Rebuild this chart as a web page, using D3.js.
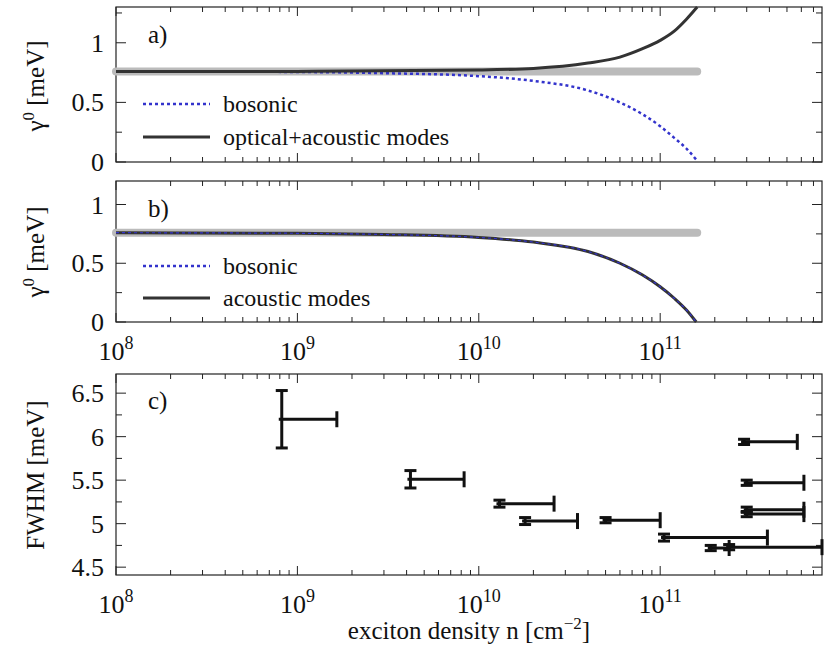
<!DOCTYPE html>
<html><head><meta charset="utf-8">
<script src="https://cdn.jsdelivr.net/npm/d3@7"></script>
<style>body{margin:0;background:#fff}</style>
</head><body><svg id="c" width="830" height="645" font-family="Liberation Serif, Times New Roman, serif" fill="#111"></svg>
<script>
// panel a/b curves (density, gamma0)
var nGray = [1e8, 1.6e11], gGray = [0.76, 0.76];
var nA = [1e8, 1e9, 1e10, 2e10, 4e10, 6e10, 8e10, 1e11, 1.2e11, 1.4e11, 1.6e11];
var gOpt = [0.76, 0.76, 0.772, 0.785, 0.83, 0.88, 0.95, 1.02, 1.1, 1.2, 1.3];
var nBos = [1e8, 1e9, 3e9, 1e10, 2e10, 4e10, 6e10, 8e10, 1e11, 1.2e11, 1.4e11, 1.58e11];
var gBos = [0.76, 0.755, 0.745, 0.72, 0.68, 0.6, 0.5, 0.4, 0.3, 0.2, 0.11, 0.02];
var gAco = [0.76, 0.755, 0.745, 0.72, 0.68, 0.6, 0.5, 0.4, 0.3, 0.2, 0.1, 0.0];
// panel c measurements
var fwN    = [8.2e8, 4.2e9, 1.3e10, 1.8e10, 5e10, 1.05e11, 1.9e11, 2.4e11, 2.9e11, 3.0e11, 3.0e11, 3.0e11];
var fwNhi  = [1.65e9, 8.3e9, 2.6e10, 3.5e10, 1.0e11, 3.9e11, 2.4e11, 7.8e11, 5.7e11, 6.2e11, 6.2e11, 6.2e11];
var fwY    = [6.2, 5.51, 5.23, 5.03, 5.04, 4.84, 4.72, 4.73, 5.94, 5.47, 5.16, 5.11];
var fwErr  = [0.33, 0.1, 0.04, 0.04, 0.03, 0.04, 0.03, 0.03, 0.03, 0.03, 0.03, 0.03];

var svg = d3.select("#c");
var x = d3.scaleLog().domain([1e8, 7.8e11]).range([116, 822]);
var decades = [1e8, 1e9, 1e10, 1e11];
var minors = [];
decades.forEach(function(d){ for (var k = 2; k < 10; k++) if (d*k < 7.8e11) minors.push(d*k); });

function panel(top, bot, ydom, yticks, yminor, xlabels) {
  var y = d3.scaleLinear().domain(ydom).range([bot, top]);
  var g = svg.append("g");
  g.append("rect").attr("x", 116).attr("y", top).attr("width", 706).attr("height", bot-top)
    .attr("fill", "none").attr("stroke", "#222").attr("stroke-width", 1.2);
  minors.forEach(function(v){ [bot, top].forEach(function(p, i){
    g.append("line").attr("x1", x(v)).attr("x2", x(v)).attr("y1", p).attr("y2", i ? p+5 : p-5).attr("stroke", "#222"); }); });
  decades.forEach(function(v){ [bot, top].forEach(function(p, i){
    g.append("line").attr("x1", x(v)).attr("x2", x(v)).attr("y1", p).attr("y2", i ? p+9 : p-9).attr("stroke", "#222"); }); });
  yminor.forEach(function(v){ [116, 822].forEach(function(p, i){
    g.append("line").attr("y1", y(v)).attr("y2", y(v)).attr("x1", p).attr("x2", i ? p-6 : p+6).attr("stroke", "#222"); }); });
  yticks.forEach(function(t){ [116, 822].forEach(function(p, i){
    g.append("line").attr("y1", y(t[0])).attr("y2", y(t[0])).attr("x1", p).attr("x2", i ? p-10 : p+10).attr("stroke", "#222"); });
    g.append("text").attr("x", 104).attr("y", y(t[0])+9).attr("text-anchor", "end").attr("font-size", 26).text(t[1]); });
  if (xlabels) decades.forEach(function(v){
    var t = g.append("text").attr("x", x(v)).attr("y", bot+38).attr("text-anchor", "middle").attr("font-size", 26);
    t.append("tspan").text("10");
    t.append("tspan").attr("dy", -11).attr("font-size", 18).text(String(Math.log10(v)));
  });
  return y;
}

function ylabel(cy) {
  var t = svg.append("text").attr("transform", "translate(44," + cy + ") rotate(-90)")
    .attr("text-anchor", "middle").attr("font-size", 25);
  t.append("tspan").text("γ");
  t.append("tspan").attr("dy", -10).attr("font-size", 17).text("0");
  t.append("tspan").attr("dy", 10).text(" [meV]");
}

var line = function(y){ return d3.line().x(function(d){ return x(d[0]); }).y(function(d){ return y(d[1]); }).curve(d3.curveMonotoneX); };
function zip(a, b){ return a.map(function(v, i){ return [v, b[i]]; }); }

// panel a
var ya = panel(7, 162, [0, 1.3], [[0,"0"],[0.5,"0.5"],[1,"1"]], [0.25,0.75,1.25], false);
svg.append("path").attr("d", line(ya)(zip(nGray, gGray))).attr("stroke", "#bbb").attr("stroke-width", 8).attr("fill", "none").attr("stroke-linecap", "round");
svg.append("path").attr("d", line(ya)(zip(nBos, gBos))).attr("stroke", "#3333cc").attr("stroke-width", 2.5).attr("stroke-dasharray", "3,3").attr("fill", "none");
svg.append("path").attr("d", line(ya)(zip(nA, gOpt))).attr("stroke", "#333").attr("stroke-width", 3).attr("fill", "none");
ylabel(86);
svg.append("text").attr("x", 148).attr("y", 43).attr("font-size", 25).text("a)");

// panel b
var yb = panel(181, 322, [0, 1.2], [[0,"0"],[0.5,"0.5"],[1,"1"]], [0.25,0.75], true);
svg.append("path").attr("d", line(yb)(zip(nGray, gGray))).attr("stroke", "#bbb").attr("stroke-width", 8).attr("fill", "none").attr("stroke-linecap", "round");
svg.append("path").attr("d", line(yb)(zip(nBos, gAco))).attr("stroke", "#333").attr("stroke-width", 3).attr("fill", "none");
svg.append("path").attr("d", line(yb)(zip(nBos, gAco))).attr("stroke", "#3333cc").attr("stroke-width", 1.2).attr("stroke-dasharray", "3,3").attr("fill", "none");
ylabel(252);
svg.append("text").attr("x", 148).attr("y", 217).attr("font-size", 25).text("b)");

// legends
function legend(ly, label, dotted) {
  svg.append("line").attr("x1", 143).attr("x2", 210).attr("y1", ly).attr("y2", ly)
    .attr("stroke", dotted ? "#3333cc" : "#333").attr("stroke-width", dotted ? 2.5 : 3)
    .attr("stroke-dasharray", dotted ? "3,3" : null);
  svg.append("text").attr("x", 223).attr("y", ly+8).attr("font-size", 24).text(label);
}
legend(104, "bosonic", true); legend(137, "optical+acoustic modes", false);
legend(266, "bosonic", true); legend(298, "acoustic modes", false);

// panel c
var yc = panel(374, 575, [4.41, 6.72], [[4.5,"4.5"],[5,"5"],[5.5,"5.5"],[6,"6"],[6.5,"6.5"]], [4.75,5.25,5.75,6.25], true);
var pts = fwN.map(function(n, i){ return {n: n, hi: fwNhi[i], y: fwY[i], e: fwErr[i]}; });
var gp = svg.append("g").attr("stroke", "#111").attr("stroke-width", 3);
pts.forEach(function(p){
  var cx = x(p.n), cy = yc(p.y), r = Math.min(x(p.hi), 822);
  gp.append("line").attr("x1", cx-3).attr("x2", r).attr("y1", cy).attr("y2", cy);
  if (x(p.hi) <= 822) gp.append("line").attr("x1", r).attr("x2", r).attr("y1", cy-8).attr("y2", cy+8);
  gp.append("line").attr("x1", cx).attr("x2", cx).attr("y1", yc(p.y+p.e)).attr("y2", yc(p.y-p.e));
  [p.y+p.e, p.y-p.e].forEach(function(v){
    gp.append("line").attr("x1", cx-6).attr("x2", cx+6).attr("y1", yc(v)).attr("y2", yc(v)); });
});
svg.append("text").attr("x", 148).attr("y", 409).attr("font-size", 25).text("c)");
svg.append("text").attr("transform", "translate(44,475) rotate(-90)").attr("text-anchor", "middle").attr("font-size", 25).text("FWHM [meV]");
var xl = svg.append("text").attr("x", 469).attr("y", 639).attr("text-anchor", "middle").attr("font-size", 25);
xl.append("tspan").text("exciton density n [cm");
xl.append("tspan").attr("dy", -10).attr("font-size", 17).text("−2");
xl.append("tspan").attr("dy", 10).text("]");
</script></body></html>
